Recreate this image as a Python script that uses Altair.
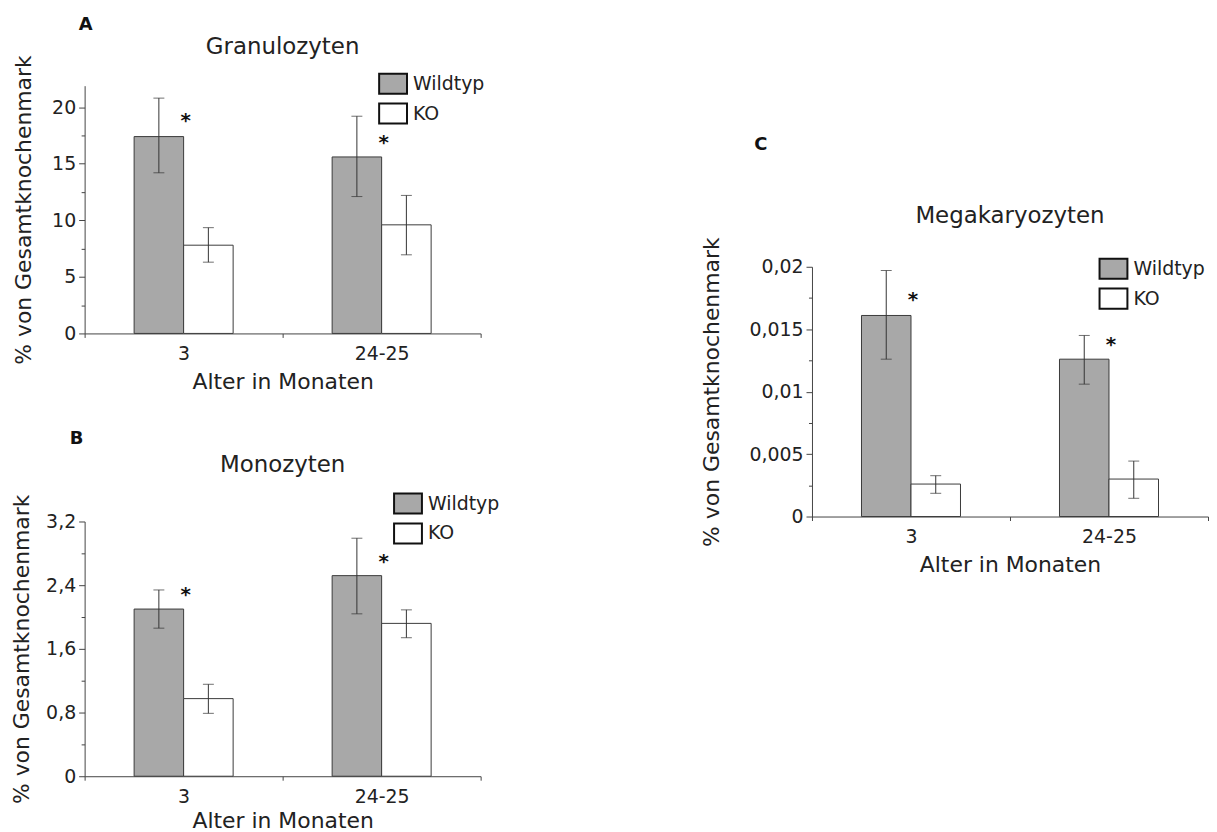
import altair as alt
import pandas as pd

FONT = "DejaVu Sans"
ages = ["3", "24-25"]
groups = ["Wildtyp", "KO"]

# Panel A: Granulozyten
gran_wt = [17.4, 15.6]
gran_wt_lo = [14.2, 12.1]
gran_wt_hi = [20.8, 19.2]
gran_ko = [7.8, 9.6]
gran_ko_lo = [6.3, 6.95]
gran_ko_hi = [9.35, 12.2]
gran_star = [19.0, 17.1]
gran_major = [0, 5, 10, 15, 20]
gran_minor = [2.5, 7.5, 12.5, 17.5]

# Panel B: Monozyten
mono_wt = [2.1, 2.52]
mono_wt_lo = [1.86, 2.04]
mono_wt_hi = [2.34, 2.99]
mono_ko = [0.975, 1.92]
mono_ko_lo = [0.79, 1.74]
mono_ko_hi = [1.155, 2.09]
mono_star = [2.32, 2.73]
mono_major = [0, 0.8, 1.6, 2.4, 3.2]
mono_minor = [0.4, 1.2, 2.0, 2.8]

# Panel C: Megakaryozyten
mega_wt = [0.0161, 0.0126]
mega_wt_lo = [0.0126, 0.0106]
mega_wt_hi = [0.0197, 0.0145]
mega_ko = [0.0026, 0.003]
mega_ko_lo = [0.00186, 0.00146]
mega_ko_hi = [0.00327, 0.00444]
mega_star = [0.01755, 0.0140]
mega_major = [0, 0.005, 0.01, 0.015, 0.02]
mega_minor = [0.0025, 0.0075, 0.0125, 0.0175]

Y_TITLE = "% von Gesamtknochenmark"
X_TITLE = "Alter in Monaten"


def panel(wt, wt_lo, wt_hi, ko, ko_lo, ko_hi, star, major, minor, ymax,
          height, title, title_y, letter, letter_x, letter_y, leg_x, leg_y,
          ytitle_pad=12, xtitle_pad=8):
    width = 398
    rows = []
    for i, a in enumerate(ages):
        rows.append({"age": a, "group": "Wildtyp", "mean": wt[i], "lo": wt_lo[i], "hi": wt_hi[i]})
        rows.append({"age": a, "group": "KO", "mean": ko[i], "lo": ko_lo[i], "hi": ko_hi[i]})
    df = pd.DataFrame(rows)
    caps = pd.concat([
        df[["age", "group", "lo"]].rename(columns={"lo": "v"}),
        df[["age", "group", "hi"]].rename(columns={"hi": "v"}),
    ])
    stars = pd.DataFrame({"age": ages, "star": star})

    maj = "[" + ",".join(repr(v) for v in major) + "]"
    test = f"indexof({maj}, datum.value) >= 0"
    yaxis = alt.Axis(
        title=Y_TITLE,
        values=major + minor,
        labelExpr=f"{test} ? replace(format(datum.value, '~g'), '.', ',') : ''",
        tickSize={"condition": {"test": test, "value": 6}, "value": 3.5},
        grid=False,
        titlePadding=ytitle_pad,
        labelPadding=3,
    )
    yscale = alt.Scale(domain=[0, ymax], nice=False, zero=True)
    xscale = alt.Scale(domain=ages, paddingInner=0, paddingOuter=0)
    xaxis = alt.Axis(title=X_TITLE, labelAngle=0, tickBand="extent", tickSize=4,
                     labelPadding=7, titlePadding=xtitle_pad, grid=False)
    xenc = alt.X("age:N", scale=xscale, axis=xaxis, sort=ages)
    xoff = alt.XOffset("group:N", sort=groups,
                       scale=alt.Scale(domain=groups, paddingInner=0, paddingOuter=1))

    base = alt.Chart(df)
    bars = base.mark_bar(stroke="#3a3a3a", strokeWidth=1).encode(
        x=xenc, xOffset=xoff,
        y=alt.Y("mean:Q", scale=yscale, axis=yaxis),
        fill=alt.Fill("group:N", sort=groups,
                      scale=alt.Scale(domain=groups, range=["#a8a8a8", "#ffffff"]),
                      legend=alt.Legend(
                          title=None, orient="none", legendX=leg_x, legendY=leg_y,
                          symbolType="M-1,-0.72H1V0.72H-1Z", symbolSize=784,
                          symbolStrokeColor="#111", symbolStrokeWidth=2,
                          labelFont=FONT, labelFontSize=19, labelColor="#222",
                          labelOffset=5, rowPadding=-2)),
    )
    errs = base.mark_rule(color="#333", strokeWidth=1).encode(
        x=xenc, xOffset=xoff,
        y=alt.Y("lo:Q", scale=yscale, axis=yaxis), y2="hi:Q",
    )
    capm = alt.Chart(caps).mark_tick(color="#333", thickness=1, size=11).encode(
        x=xenc, xOffset=xoff,
        y=alt.Y("v:Q", scale=yscale, axis=yaxis),
    )
    starm = alt.Chart(stars).mark_text(text="*", font=FONT, fontSize=20, fontWeight="bold",
                                       color="#111", dx=2, dy=3).encode(
        x=xenc, y=alt.Y("star:Q", scale=yscale, axis=yaxis),
    )
    tdf = pd.DataFrame({"t": [title]})
    titlem = alt.Chart(tdf).mark_text(font=FONT, fontSize=23, color="#222",
                                      align="center", baseline="alphabetic").encode(
        text="t:N", x=alt.value(width / 2), y=alt.value(title_y))
    ldf = pd.DataFrame({"t": [letter]})
    letterm = alt.Chart(ldf).mark_text(font=FONT, fontSize=18, fontWeight="bold", color="#111",
                                       align="left", baseline="alphabetic").encode(
        text="t:N", x=alt.value(letter_x), y=alt.value(letter_y))
    return alt.layer(bars, errs, capm, starm, titlem, letterm).properties(width=width, height=height)


RES = dict(x="independent", y="independent", fill="independent", xOffset="independent")

pA = panel(gran_wt, gran_wt_lo, gran_wt_hi, gran_ko, gran_ko_lo, gran_ko_hi, gran_star,
           gran_major, gran_minor, 21.9, 249, "Granulozyten", -32,
           "A", -6, -56, 295, -17, ytitle_pad=16)
pB = panel(mono_wt, mono_wt_lo, mono_wt_hi, mono_ko, mono_ko_lo, mono_ko_hi, mono_star,
           mono_major, mono_minor, 3.2, 256, "Monozyten", -50,
           "B", -15, -78, 310, -33, xtitle_pad=5)
pC = panel(mega_wt, mega_wt_lo, mega_wt_hi, mega_ko, mega_ko_lo, mega_ko_hi, mega_star,
           mega_major, mega_minor, 0.02, 251, "Megakaryozyten", -44,
           "C", -58, -117, 288, -13, ytitle_pad=26)

# invisible spacer above panel C (pushes it down in the right column)
SPACER_H = 51
spacer = alt.Chart(pd.DataFrame({"s": [0]})).mark_rule(opacity=0).encode(
    x=alt.value(0), y=alt.value(0), y2=alt.value(SPACER_H)
).properties(width=398, height=SPACER_H)

left = alt.vconcat(pA, pB, spacing=38).resolve_scale(**RES).resolve_legend(fill="independent")
right = alt.vconcat(spacer, pC, spacing=0).resolve_scale(**RES).resolve_legend(fill="independent")

chart = alt.hconcat(left, right, spacing=201).resolve_scale(**RES).resolve_legend(
    fill="independent"
).properties(
    padding={"left": 2, "top": 6, "right": 0, "bottom": 0}
).configure(background="white").configure_view(stroke=None).configure_axis(
    labelFont=FONT, titleFont=FONT, labelFontSize=19, titleFontSize=22,
    titleFontWeight="normal", labelColor="#222", titleColor="#222",
    domainColor="#444", tickColor="#444", domainWidth=1, tickWidth=1,
)

chart.save("out.html", embed_options={"renderer": "svg", "actions": False})
